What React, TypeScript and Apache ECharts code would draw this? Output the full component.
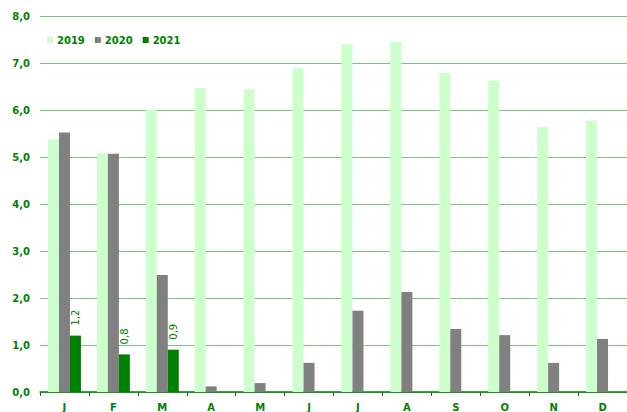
import React, { useEffect, useRef } from "react";
import * as echarts from "echarts";

const categories = ["J", "F", "M", "A", "M", "J", "J", "A", "S", "O", "N", "D"];
const s2019 = [5.37, 5.08, 6.01, 6.47, 6.44, 6.89, 7.4, 7.45, 6.79, 6.63, 5.64, 5.77];
const s2020 = [5.52, 5.07, 2.49, 0.12, 0.19, 0.62, 1.73, 2.13, 1.34, 1.21, 0.62, 1.13];
const s2021 = [1.2, 0.8, 0.9];
const seriesNames = ["2019", "2020", "2021"];
const yTicks = [0, 1, 2, 3, 4, 5, 6, 7, 8];

const GREEN = "#008000";
const FONT = "DejaVu Sans";

export default function App() {
  const ref = useRef<HTMLDivElement>(null);
  useEffect(() => {
    if (!ref.current) return;
    const chart = echarts.init(ref.current, null, { renderer: "svg" });
    const fmt = (v: number) => v.toFixed(1).replace(".", ",");
    chart.setOption({
      animation: false,
      backgroundColor: "#ffffff",
      grid: { left: 40, right: 0, top: 16, bottom: 20, containLabel: false },
      legend: {
        left: 42,
        top: 30,
        itemWidth: 6,
        itemHeight: 6,
        itemGap: 10,
        icon: "rect",
        data: seriesNames,
        textStyle: { color: GREEN, fontFamily: FONT, fontWeight: "bold", fontSize: 10, padding: [0, 0, 0, -1] },
      },
      xAxis: {
        type: "category",
        data: categories,
        axisLine: { show: true, lineStyle: { color: GREEN, width: 1.5 } },
        axisTick: { show: true, length: 4, lineStyle: { color: GREEN } },
        axisLabel: { color: GREEN, fontFamily: FONT, fontWeight: "bold", fontSize: 10, margin: 10 },
      },
      yAxis: {
        type: "value",
        min: yTicks[0],
        max: yTicks[yTicks.length - 1],
        interval: 1,
        axisLine: { show: false },
        axisTick: { show: false },
        splitLine: { lineStyle: { color: "#7cc47c", width: 1 } },
        axisLabel: {
          color: GREEN,
          fontFamily: FONT,
          fontWeight: "bold",
          fontSize: 10,
          margin: 10,
          formatter: (v: number) => fmt(v),
        },
      },
      series: [
        {
          name: seriesNames[0],
          type: "bar",
          data: s2019,
          barWidth: 11,
          barGap: "0%",
          itemStyle: { color: "#ccffcc" },
        },
        {
          name: seriesNames[1],
          type: "bar",
          data: s2020,
          barWidth: 11,
          barGap: "0%",
          itemStyle: { color: "#808080" },
        },
        {
          name: seriesNames[2],
          type: "bar",
          data: s2021,
          barWidth: 11,
          barGap: "0%",
          itemStyle: { color: GREEN },
          label: {
            show: true,
            position: "top",
            rotate: 90,
            align: "left",
            verticalAlign: "middle",
            distance: 9,
            offset: [1, 0],
            color: GREEN,
            fontFamily: FONT,
            fontWeight: "normal",
            fontSize: 10,
            formatter: (p: any) => fmt(p.value),
          },
        },
      ],
    });
    return () => chart.dispose();
  }, []);
  return (
    <div
      ref={ref}
      style={{ position: "fixed", left: 0, top: 0, width: 627, height: 412 }}
    />
  );
}
